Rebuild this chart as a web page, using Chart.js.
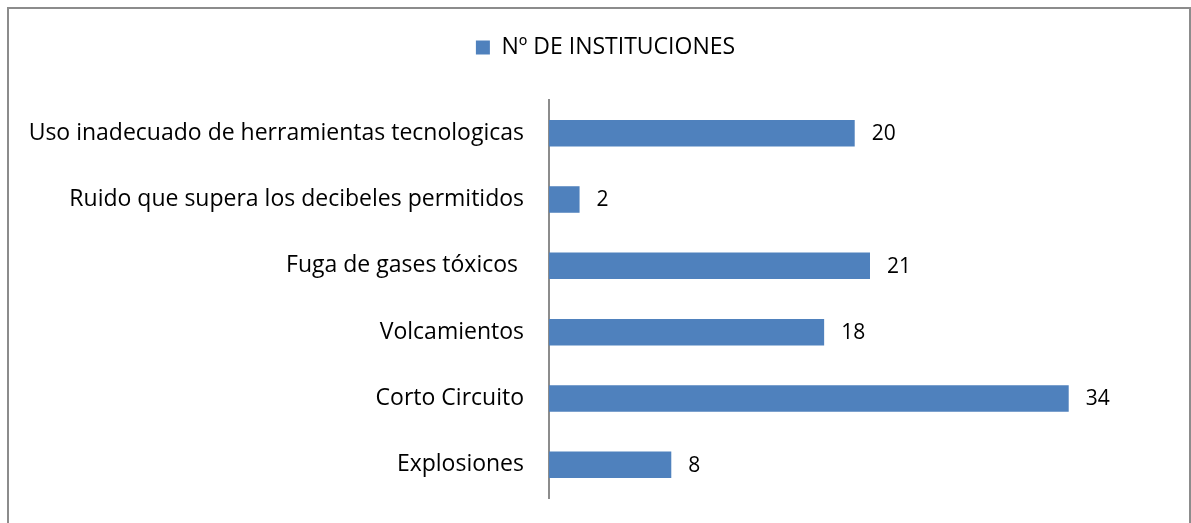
<!DOCTYPE html>
<html>
<head>
<meta charset="utf-8">
<script src="https://cdn.jsdelivr.net/npm/chart.js@4/dist/chart.umd.min.js"></script>
<style>
  html, body { margin: 0; padding: 0; background: #fff; overflow: hidden; }
  #frame { position: absolute; left: 7px; top: 7px; width: 1180px; height: 560px; border: 2px solid #8c8c8c; }
  #wrap { position: absolute; left: 0; top: 0; width: 1191px; height: 523px; }
</style>
</head>
<body>
<div id="frame"></div>
<div id="wrap"><canvas id="barChart"></canvas></div>
<script>
const categories = [
  'Uso inadecuado de herramientas tecnologicas',
  'Ruido que supera los decibeles permitidos',
  'Fuga de gases tóxicos ',
  'Volcamientos',
  'Corto Circuito',
  'Explosiones'
];
const values = [20, 2, 21, 18, 34, 8];
const seriesName = 'Nº DE INSTITUCIONES';

const FONT = '"Open Sans", Lato, sans-serif';

// extra room under the legend
const legendGap = {
  id: 'legendGap',
  beforeInit(chart) {
    const fit = chart.legend.fit;
    chart.legend.fit = function () {
      fit.call(this);
      this.height += 31;
    };
  }
};

// value labels at the end of each bar
const valueLabels = {
  id: 'valueLabels',
  afterDatasetsDraw(chart) {
    const ctx = chart.ctx;
    const meta = chart.getDatasetMeta(0);
    ctx.save();
    ctx.font = '21px ' + FONT;
    ctx.fillStyle = '#000';
    ctx.textAlign = 'left';
    ctx.textBaseline = 'middle';
    meta.data.forEach((bar, i) => {
      ctx.fillText(values[i], bar.x + 17, bar.y + 1);
    });
    ctx.restore();
  }
};

const ctx = document.getElementById('barChart').getContext('2d');
new Chart(ctx, {
  type: 'bar',
  data: {
    labels: categories,
    datasets: [{
      label: seriesName,
      data: values,
      backgroundColor: '#4F81BD',
      borderWidth: 0,
      barPercentage: 0.4,
      categoryPercentage: 1.0
    }]
  },
  options: {
    indexAxis: 'y',
    responsive: true,
    maintainAspectRatio: false,
    animation: false,
    layout: { padding: { top: 26, right: 0, bottom: 25, left: 20 } },
    scales: {
      x: {
        display: false,
        min: 0,
        max: 42
      },
      y: {
        grid: { display: false, drawTicks: false },
        border: { display: true, color: '#8c8c8c', width: 2 },
        ticks: { color: '#000', padding: 25, font: { family: FONT, size: 23 } },
        afterFit: (scale) => {
          scale.width = 529;
          scale.paddingTop = 0;
          scale.paddingBottom = 0;
        }
      }
    },
    plugins: {
      legend: {
        position: 'top',
        labels: {
          color: '#000',
          boxWidth: 14,
          boxHeight: 14,
          padding: 10,
          font: { family: FONT, size: 23 }
        }
      },
      tooltip: { enabled: false }
    }
  },
  plugins: [legendGap, valueLabels]
});
</script>
</body>
</html>
